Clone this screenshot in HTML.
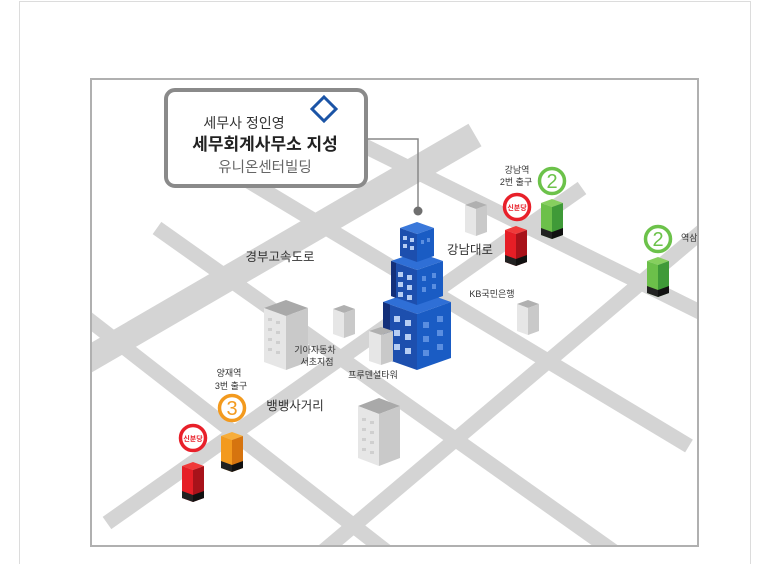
<!DOCTYPE html>
<html><head><meta charset="utf-8"><style>
html,body{margin:0;padding:0;background:#fff;}
svg{display:block;}
text{font-family:"Liberation Sans","Noto Sans CJK KR",sans-serif;}
</style></head><body>
<svg width="772" height="564" viewBox="0 0 772 564" xmlns="http://www.w3.org/2000/svg">
<defs>
<clipPath id="fr"><rect x="92" y="80" width="605" height="465"/></clipPath>
</defs>
<rect x="19.5" y="1.5" width="731" height="570" fill="#fff" stroke="#dcdcdc" stroke-width="1"/>
<rect x="91" y="79" width="607" height="467" fill="#fff" stroke="#b0b0b0" stroke-width="2"/>
<g clip-path="url(#fr)">
<g stroke="#d4d4d4" stroke-width="15" fill="none">
<line x1="300" y1="114" x2="720" y2="322"/>
<line x1="240" y1="176" x2="689" y2="446"/>
<line x1="157" y1="228" x2="620" y2="556"/>
<line x1="70" y1="305" x2="400" y2="562"/>
<line x1="107" y1="523" x2="582" y2="188"/>
<line x1="320" y1="554" x2="720" y2="216"/>
<line x1="70" y1="370" x2="475" y2="135" stroke-width="26"/>
</g>

<g>
<polygon points="286,300 308,308 286,316 264,308" fill="#a9a9a9"/>
<polygon points="264,308 286,316 286,370 264,362" fill="#e6e6e6"/>
<polygon points="286,316 308,308 308,362 286,370" fill="#c9c9c9"/>
<polygon points="344,305 355,309 344,313 333,309" fill="#b0b0b0"/>
<polygon points="333,309 344,313 344,338 333,334" fill="#e6e6e6"/>
<polygon points="344,313 355,309 355,334 344,338" fill="#c9c9c9"/>
<polygon points="476,201 487,205 476,209 465,205" fill="#b0b0b0"/>
<polygon points="465,205 476,209 476,236 465,232" fill="#e6e6e6"/>
<polygon points="476,209 487,205 487,232 476,236" fill="#c9c9c9"/>
<polygon points="528,300 539,304 528,308 517,304" fill="#b0b0b0"/>
<polygon points="517,304 528,308 528,335 517,331" fill="#e6e6e6"/>
<polygon points="528,308 539,304 539,331 528,335" fill="#c9c9c9"/>
<polygon points="379,398 400,406 379,414 358,406" fill="#a9a9a9"/>
<polygon points="358,406 379,414 379,466 358,458" fill="#e6e6e6"/>
<polygon points="379,414 400,406 400,458 379,466" fill="#c9c9c9"/>
</g>
<g fill="#cfcfcf">
<rect x="268" y="318" width="4" height="3"/><rect x="276" y="321" width="4" height="3"/>
<rect x="268" y="328" width="4" height="3"/><rect x="276" y="331" width="4" height="3"/>
<rect x="268" y="338" width="4" height="3"/><rect x="276" y="341" width="4" height="3"/>
<rect x="268" y="348" width="4" height="3"/><rect x="276" y="351" width="4" height="3"/>
<rect x="362" y="418" width="4" height="3"/><rect x="370" y="421" width="4" height="3"/>
<rect x="362" y="428" width="4" height="3"/><rect x="370" y="431" width="4" height="3"/>
<rect x="362" y="438" width="4" height="3"/><rect x="370" y="441" width="4" height="3"/>
<rect x="362" y="448" width="4" height="3"/><rect x="370" y="451" width="4" height="3"/>
</g>

<polygon points="417,290 451,302 417,314 383,302" fill="#2f6fd6"/>
<polygon points="383,302 417,314 417,370 383,358" fill="#1d4fae"/>
<polygon points="417,314 451,302 451,358 417,370" fill="#1a5cc4"/>
<polygon points="417,252 443,261 417,270 391,261" fill="#2f6fd6"/>
<polygon points="391,261 417,270 417,305 391,296" fill="#1d4fae"/>
<polygon points="417,270 443,261 443,296 417,305" fill="#1a5cc4"/>
<polygon points="417,222 434,228 417,234 400,228" fill="#3a78da"/>
<polygon points="400,228 417,234 417,262 400,256" fill="#1d4fae"/>
<polygon points="417,234 434,228 434,256 417,262" fill="#1a5cc4"/>
<polygon points="383,302 390,304.5 390,360.5 383,358" fill="#14307a"/>
<polygon points="391,261 396,263 396,298 391,296" fill="#14307a"/>
<g fill="#b6cdf3">
<rect x="403" y="236" width="4" height="4"/><rect x="410" y="238" width="4" height="4"/>
<rect x="403" y="244" width="4" height="4"/><rect x="410" y="246" width="4" height="4"/>
<rect x="398" y="272" width="5" height="5"/><rect x="407" y="275" width="5" height="5"/>
<rect x="398" y="282" width="5" height="5"/><rect x="407" y="285" width="5" height="5"/>
<rect x="398" y="292" width="5" height="5"/><rect x="407" y="295" width="5" height="5"/>
<rect x="394" y="316" width="6" height="6"/><rect x="405" y="320" width="6" height="6"/>
<rect x="394" y="330" width="6" height="6"/><rect x="405" y="334" width="6" height="6"/>
<rect x="394" y="344" width="6" height="6"/><rect x="405" y="348" width="6" height="6"/>
</g>
<g fill="#5a8ee0">
<rect x="421" y="240" width="3" height="4"/><rect x="427" y="238" width="3" height="4"/>
<rect x="422" y="276" width="4" height="5"/><rect x="432" y="273" width="4" height="5"/>
<rect x="422" y="287" width="4" height="5"/><rect x="432" y="284" width="4" height="5"/>
<rect x="423" y="322" width="6" height="6"/><rect x="437" y="316" width="6" height="6"/>
<rect x="423" y="336" width="6" height="6"/><rect x="437" y="330" width="6" height="6"/>
<rect x="423" y="350" width="6" height="6"/><rect x="437" y="344" width="6" height="6"/>
</g>

<polygon points="381,327 393,331 381,335 369,331" fill="#b0b0b0"/>
<polygon points="369,331 381,335 381,365 369,361" fill="#e6e6e6"/>
<polygon points="381,335 393,331 393,361 381,365" fill="#c9c9c9"/>

<g transform="translate(516,226)">
<polygon points="0,0 11,4 0,8 -11,4" fill="#f03a3a"/>
<polygon points="-11,4 0,8 0,40 -11,36" fill="#e61e26"/>
<polygon points="0,8 11,4 11,36 0,40" fill="#a8121a"/>
<polygon points="-11,29 0,33 0,40 -11,36" fill="#222"/><polygon points="0,33 11,29 11,36 0,40" fill="#111"/>
</g>
<g transform="translate(193,462)">
<polygon points="0,0 11,4 0,8 -11,4" fill="#f03a3a"/>
<polygon points="-11,4 0,8 0,40 -11,36" fill="#e61e26"/>
<polygon points="0,8 11,4 11,36 0,40" fill="#a8121a"/>
<polygon points="-11,29 0,33 0,40 -11,36" fill="#222"/><polygon points="0,33 11,29 11,36 0,40" fill="#111"/>
</g>
<g transform="translate(552,199)">
<polygon points="0,0 11,4 0,8 -11,4" fill="#86cf5e"/>
<polygon points="-11,4 0,8 0,40 -11,36" fill="#6cc04a"/>
<polygon points="0,8 11,4 11,36 0,40" fill="#3f9a38"/>
<polygon points="-11,29 0,33 0,40 -11,36" fill="#222"/><polygon points="0,33 11,29 11,36 0,40" fill="#111"/>
</g>
<g transform="translate(658,257)">
<polygon points="0,0 11,4 0,8 -11,4" fill="#86cf5e"/>
<polygon points="-11,4 0,8 0,40 -11,36" fill="#6cc04a"/>
<polygon points="0,8 11,4 11,36 0,40" fill="#3f9a38"/>
<polygon points="-11,29 0,33 0,40 -11,36" fill="#222"/><polygon points="0,33 11,29 11,36 0,40" fill="#111"/>
</g>
<g transform="translate(232,432)">
<polygon points="0,0 11,4 0,8 -11,4" fill="#f7ad3a"/>
<polygon points="-11,4 0,8 0,40 -11,36" fill="#f39a1e"/>
<polygon points="0,8 11,4 11,36 0,40" fill="#d6740f"/>
<polygon points="-11,29 0,33 0,40 -11,36" fill="#222"/><polygon points="0,33 11,29 11,36 0,40" fill="#111"/>
</g>

<g fill="#fff" stroke-width="3.5">
<circle cx="517" cy="207" r="12.5" stroke="#e8202a"/>
<circle cx="193" cy="438" r="12.5" stroke="#e8202a"/>
<circle cx="552" cy="181" r="12.5" stroke="#6cc24a"/>
<circle cx="658" cy="239" r="12.5" stroke="#6cc24a"/>
<circle cx="232" cy="408" r="12.5" stroke="#f39a1e"/>
</g>
<g font-weight="bold" font-size="7" fill="#e8202a" text-anchor="middle">
<text x="517" y="210">신분당</text>
<text x="193" y="441">신분당</text>
</g>
<g font-size="20" text-anchor="middle">
<text x="552" y="188" fill="#6cc24a">2</text>
<text x="658" y="246" fill="#6cc24a">2</text>
<text x="232" y="415" fill="#f39a1e">3</text>
</g>

<g fill="#333" font-size="9" text-anchor="middle">
<text x="517" y="173">강남역</text>
<text x="516" y="185">2번 출구</text>
<text x="492" y="297">KB국민은행</text>
<text x="315" y="353">기아자동차</text>
<text x="317" y="365">서초지점</text>
<text x="373" y="378">프루덴셜타워</text>
<text x="229" y="376">양재역</text>
<text x="231" y="389">3번 출구</text>
</g>
<text x="681" y="241" font-size="9" fill="#333">역삼역</text>
<g fill="#333" font-size="12.5" text-anchor="middle">
<text x="280" y="261">경부고속도로</text>
<text x="470" y="254">강남대로</text>
<text x="295" y="410">뱅뱅사거리</text>
</g>
</g>

<polyline points="368,139 418,139 418,211" fill="none" stroke="#888" stroke-width="1.5"/>
<circle cx="418" cy="211" r="4.5" fill="#6f6f6f"/>

<rect x="166" y="90" width="200" height="96" rx="9" fill="#fff" stroke="#8a8a8a" stroke-width="4"/>
<polygon points="324,97 336,109 324,121 312,109" fill="none" stroke="#1b54a6" stroke-width="3"/>
<text x="244" y="128" font-size="14" fill="#333" text-anchor="middle">세무사 정인영</text>
<text x="265" y="150" font-size="17" font-weight="bold" fill="#222" text-anchor="middle">세무회계사무소 지성</text>
<text x="265" y="172" font-size="14.5" fill="#666" text-anchor="middle">유니온센터빌딩</text>
</svg>
</body></html>
